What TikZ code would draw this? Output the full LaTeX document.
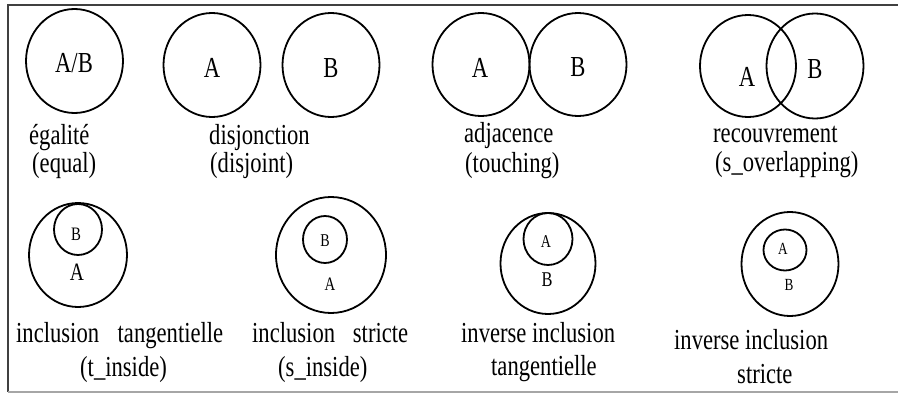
\documentclass[tikz,border=0pt]{standalone}
\usepackage{fontspec}
\setmainfont[FakeStretch=0.78]{Liberation Serif}
\usetikzlibrary{shapes.geometric}
\begin{document}
\begin{tikzpicture}[x=1pt,y=-1pt,
  ring/.style={draw=black, line width=1.8pt, ellipse, inner sep=0pt, outer sep=0pt},
  lab/.style={anchor=base west, inner sep=0pt, font=\fontsize{29}{31}\selectfont},
  letter/.style={inner sep=0pt, font=\fontsize{#1}{#1}\selectfont},
  letter/.default=29,
  frameline/.style={line width=2pt, draw=black!75},
]
\useasboundingbox (0,0) rectangle (898,393);
% frame
\coordinate (ftl) at (8,5);
\coordinate (ftr) at (898,5);
\coordinate (fbl) at (8,392);
\coordinate (fbr) at (898,392);
\draw[frameline] (ftr) -- (ftl) -- (fbl);
\draw[line width=1.5pt, draw=black!35] (fbl) -- (fbr);

% ---------- top row ----------
\node[ring, minimum width=97pt, minimum height=104pt] (eq) at (74.5,61) {};
\node[letter] (eqL) at (74,63.5) {A/B};
\node[lab] (eqT1) at (29,145) {égalité};
\node[lab] (eqT2) at (32,173) {(equal)};

\node[ring, minimum width=97pt, minimum height=104pt] (djA) at (212,65) {};
\node[ring, minimum width=97pt, minimum height=104pt] (djB) at (331,65) {};
\node[letter] (djAL) at (212,68) {A};
\node[letter] (djBL) at (331,68) {B};
\node[lab] (djT1) at (209,145) {disjonction};
\node[lab] (djT2) at (210,173) {(disjoint)};

\node[ring, minimum width=97pt, minimum height=103pt] (toA) at (481,64.5) {};
\node[ring, minimum width=97pt, minimum height=103pt] (toB) at (578,64.5) {};
\node[letter] (toAL) at (480,67.5) {A};
\node[letter] (toBL) at (578,67.5) {B};
\node[lab] (toT1) at (464,143) {adjacence};
\node[lab] (toT2) at (465,173) {(touching)};

\node[ring, minimum width=96pt, minimum height=102pt] (ovA) at (748,66) {};
\node[ring, minimum width=97pt, minimum height=105pt] (ovB) at (815,66) {};
\node[letter] (ovAL) at (747,76.5) {A};
\node[letter] (ovBL) at (815,69.5) {B};
\node[lab] (ovT1) at (713,143) {recouvrement};
\node[lab] (ovT2) at (715,172) {(s\_overlapping)};

% ---------- bottom row ----------
\node[ring, minimum width=98pt, minimum height=104pt] (tiA) at (78,255) {};
\node[ring, minimum width=48pt, minimum height=51pt] (tiB) at (78,229.5) {};
\node[letter=19] (tiBL) at (76,234) {B};
\node[letter=25] (tiAL) at (77,272) {A};
\node[lab] (tiT1) at (16,342) {\makebox[207pt][s]{inclusion tangentielle}};
\node[lab] (tiT2) at (80,376) {(t\_inside)};

\node[ring, minimum width=110pt, minimum height=116pt] (siA) at (331,255) {};
\node[ring, minimum width=44pt, minimum height=47pt] (siB) at (325,239.5) {};
\node[letter=18] (siBL) at (325,240.5) {B};
\node[letter=19] (siAL) at (330,284) {A};
\node[lab] (siT1) at (252,342) {\makebox[156pt][s]{inclusion stricte}};
\node[lab] (siT2) at (278,376) {(s\_inside)};

\node[ring, minimum width=95pt, minimum height=101pt] (itB) at (548,263.5) {};
\node[ring, minimum width=49pt, minimum height=52pt] (itA) at (548,239) {};
\node[letter=18] (itAL) at (546,241.5) {A};
\node[letter=21] (itBL) at (547,279.5) {B};
\node[lab] (itT1) at (461,342) {inverse inclusion};
\node[lab] (itT2) at (491,375) {tangentielle};

\node[ring, minimum width=97pt, minimum height=104pt] (isB) at (790,264) {};
\node[ring, minimum width=43pt, minimum height=41pt] (isA) at (785,250) {};
\node[letter=17] (isAL) at (783,248.5) {A};
\node[letter=17] (isBL) at (789,284.5) {B};
\node[lab] (isT1) at (674,349) {inverse inclusion};
\node[lab] (isT2) at (737,383) {stricte};
\end{tikzpicture}
\end{document}
